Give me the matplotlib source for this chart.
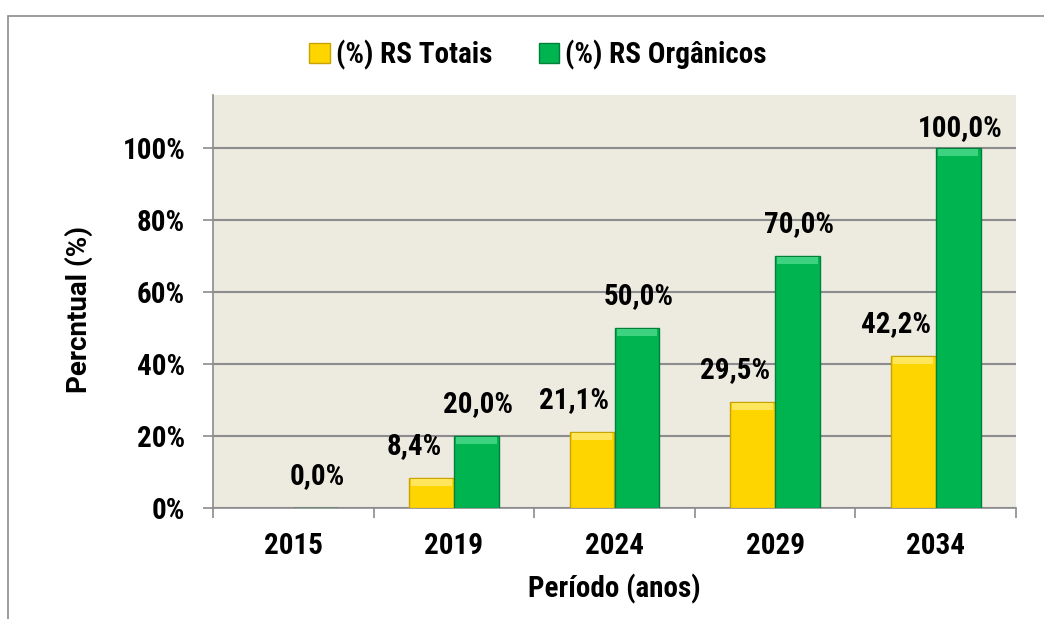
import numpy as np
import matplotlib.pyplot as plt
from matplotlib.patches import Rectangle

# dados
anos = ['2015', '2019', '2024', '2029', '2034']
rs_totais = [np.nan, 8.4, 21.1, 29.5, 42.2]
rs_organicos = [0.0, 20.0, 50.0, 70.0, 100.0]
yticks = [0, 20, 40, 60, 80, 100]

cond = ['Roboto Condensed', 'DejaVu Sans']
amarelo = '#FFD500'
verde = '#00B450'

fig = plt.figure(figsize=(10.44, 6.19), dpi=100)
fig.patches.append(Rectangle((8 / 1044, -0.1), 1.2, 1 - 16 / 619 + 0.1,
                             transform=fig.transFigure, fill=False,
                             edgecolor='#8c8c8c', linewidth=1.2))
ax = fig.add_axes([213 / 1044, 1 - 508 / 619, (1016 - 213) / 1044, (508 - 95) / 619])
ax.set_facecolor('#EDEAE0')

x = np.arange(len(anos))
w = 0.28
ax.bar(x - w / 2, rs_totais, w, color=amarelo, edgecolor='#C9A400', linewidth=1, zorder=3)
ax.bar(x + w / 2, rs_organicos, w, color=verde, edgecolor='#00803A', linewidth=1, zorder=3)
# leve brilho no topo das barras
ax.bar(x - w / 2, [2.0 if v == v else np.nan for v in rs_totais], w * 0.9,
       bottom=[v - 2.3 if v == v else np.nan for v in rs_totais],
       color='#FFE65C', linewidth=0, zorder=4)
ax.bar(x + w / 2, [2.0 if v > 0 else np.nan for v in rs_organicos], w * 0.9,
       bottom=[v - 2.3 for v in rs_organicos],
       color='#3DD27F', linewidth=0, zorder=4)

for i, v in enumerate(rs_totais):
    if v == v:
        ax.text(x[i] - w / 2 - 0.11, v + 5.0, f'{v:.1f}%'.replace('.', ','),
                ha='center', va='bottom', fontsize=21, fontweight='bold',
                family=cond, zorder=5)
for i, v in enumerate(rs_organicos):
    ax.text(x[i] + w / 2 + 0.01, min(v + 5.0, 101.5), f'{v:.1f}%'.replace('.', ','),
            ha='center', va='bottom', fontsize=21, fontweight='bold',
            family=cond, zorder=5)

ax.set_xlim(-0.5, len(anos) - 0.5)
ax.set_ylim(0, 114.7)
ax.set_yticks(yticks)
ax.set_yticklabels([f'{t}%' for t in yticks], fontsize=21, fontweight='bold', family=cond)
ax.set_xticks(x)
ax.set_xticklabels(anos, fontsize=21, fontweight='bold', family=cond)
ax.set_xticks(np.arange(-0.5, len(anos)), minor=True)
ax.tick_params(axis='x', which='major', length=0, pad=17)
ax.tick_params(axis='x', which='minor', length=7, color='#8c8c8c', width=1.2)
ax.tick_params(axis='y', length=7, color='#8c8c8c', width=1.2, pad=13)

ax.grid(axis='y', color='#8c8c8c', linewidth=1.5, zorder=1)
ax.set_axisbelow(True)
for s in ['top', 'right']:
    ax.spines[s].set_visible(False)
for s in ['left', 'bottom']:
    ax.spines[s].set_color('#8c8c8c')
    ax.spines[s].set_linewidth(1.2)

ax.set_xlabel('Período (anos)', fontsize=21, fontweight='bold', family=cond, labelpad=10)
ax.set_ylabel('Percntual (%)', fontsize=20, fontweight='bold',
              family=['Roboto', 'DejaVu Sans'])
ax.yaxis.set_label_coords(-0.149, 0.48)

h1 = Rectangle((0, 0), 1, 1, facecolor=amarelo, edgecolor='#C9A400')
h2 = Rectangle((0, 0), 1, 1, facecolor=verde, edgecolor='#00803A')
fig.legend([h1, h2], ['(%) RS Totais', '(%) RS Orgânicos'], loc='center',
           bbox_to_anchor=(538 / 1044, 1 - 55 / 619), ncol=2, frameon=False,
           prop={'family': cond, 'size': 21, 'weight': 'bold'},
           handlelength=0.7, handleheight=0.7, handletextpad=0.2, columnspacing=1.6)

fig.savefig('out.png', dpi=100)
